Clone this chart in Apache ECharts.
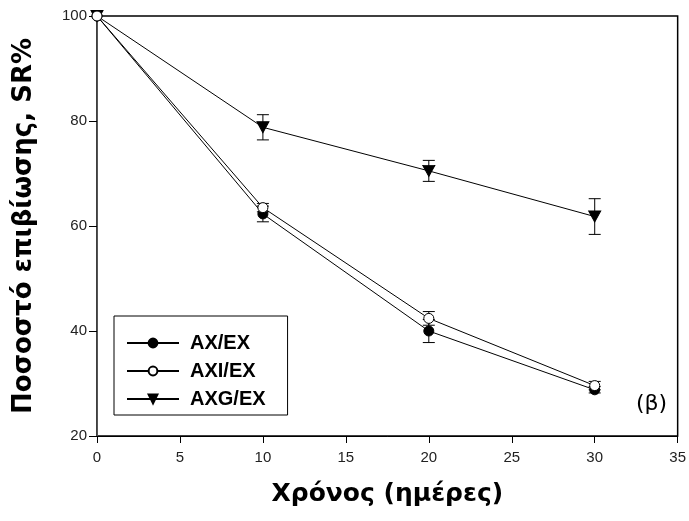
<!DOCTYPE html>
<html><head><meta charset="utf-8">
<script src="https://cdn.jsdelivr.net/npm/echarts@6/dist/echarts.min.js"></script>
<style>html,body{margin:0;padding:0;background:#fff}#c{width:689px;height:521px}</style>
</head><body><div id="c"></div>
<script>
var days = [0, 10, 20, 30];
var seriesNames = ['AX/EX', 'AXI/EX', 'AXG/EX'];
var axEx = [100, 62.3, 40.0, 28.8];
var axiEx = [100, 63.5, 42.4, 29.6];
var axgEx = [100, 78.8, 70.5, 61.8];
var errAxEx = [0, 1.5, 2.2, 0.6];
var errAxiEx = [0, 0.8, 1.3, 0.8];
var errAxgEx = [0, 2.4, 2.0, 3.4];
var xTicks = [0, 5, 10, 15, 20, 25, 30, 35];
var yTicks = [20, 40, 60, 80, 100];

function pairs(vals){ return days.map(function(d,i){ return [d, vals[i]]; }); }
function errData(vals, errs){ return days.map(function(d,i){ return [d, vals[i]-errs[i], vals[i]+errs[i]]; }).filter(function(r){return r[2]-r[1]>0;}); }
function errSeries(vals, errs){
  return {
    type:'custom', z:1, silent:true, clip:false,
    renderItem:function(params, api){
      var x = api.value(0);
      var lo = api.coord([x, api.value(1)]);
      var hi = api.coord([x, api.value(2)]);
      var w = 6;
      var st = {stroke:'#000', lineWidth:1};
      return {type:'group', children:[
        {type:'line', shape:{x1:lo[0],y1:lo[1],x2:hi[0],y2:hi[1]}, style:st},
        {type:'line', shape:{x1:lo[0]-w,y1:lo[1],x2:lo[0]+w,y2:lo[1]}, style:st},
        {type:'line', shape:{x1:hi[0]-w,y1:hi[1],x2:hi[0]+w,y2:hi[1]}, style:st}
      ]};
    },
    encode:{x:0, y:[1,2]},
    data: errData(vals, errs)
  };
}
var chart = echarts.init(document.getElementById('c'), null, {renderer:'canvas'});
var lineStyle = {color:'#000', width:1};
var titleFont = 'DejaVu Sans, Verdana, sans-serif';
chart.setOption({
  animation:false,
  backgroundColor:'#fff',
  grid:{left:97, right:11, top:16, bottom:85, show:true, borderColor:'#000', borderWidth:1.5},
  legend:{
    orient:'vertical', left:114, top:316,
    data:seriesNames,
    itemWidth:52, itemHeight:11, itemGap:8,
    padding:[17, 22, 6, 12],
    borderColor:'#000', borderWidth:1,
    textStyle:{fontFamily:'Liberation Sans, Arial', fontWeight:'bold', fontSize:20, color:'#000', padding:[0,0,0,6]}
  },
  xAxis:{
    type:'value', min:0, max:35, interval:5,
    name:'Χρόνος (ημέρες)', nameLocation:'middle', nameGap:46,
    nameTextStyle:{fontFamily:titleFont, fontWeight:'bold', fontSize:25, color:'#000'},
    axisLine:{lineStyle:{color:'#000', width:1}},
    axisTick:{inside:false, length:7, lineStyle:{color:'#000'}},
    axisLabel:{fontFamily:'Liberation Sans, Arial', fontSize:15, color:'#222', margin:14},
    splitLine:{show:false}
  },
  yAxis:{
    type:'value', min:20, max:100, interval:20,
    name:'Ποσοστό επιβίωσης, SR%', nameLocation:'middle', nameGap:60, nameRotate:90,
    nameTextStyle:{fontFamily:titleFont, fontWeight:'bold', fontSize:26, color:'#000'},
    axisLine:{lineStyle:{color:'#555', width:1}},
    axisTick:{inside:false, length:8, lineStyle:{color:'#000'}},
    axisLabel:{fontFamily:'Liberation Sans, Arial', fontSize:15, color:'#222', margin:10},
    splitLine:{show:false}
  },
  series:[
    errSeries(axEx, errAxEx),
    errSeries(axiEx, errAxiEx),
    errSeries(axgEx, errAxgEx),
    {name:seriesNames[0], type:'line', data:pairs(axEx), clip:false, z:3,
     symbol:'circle', symbolSize:10, lineStyle:lineStyle,
     itemStyle:{color:'#000', borderColor:'#000', borderWidth:1}},
    {name:seriesNames[1], type:'line', data:pairs(axiEx), clip:false, z:4,
     symbol:'circle', symbolSize:10, lineStyle:lineStyle,
     itemStyle:{color:'#fff', borderColor:'#000', borderWidth:1}},
    {name:seriesNames[2], type:'line', data:pairs(axgEx), clip:false, z:3,
     symbol:'triangle', symbolRotate:180, symbolSize:[12,11], lineStyle:lineStyle,
     itemStyle:{color:'#000', borderColor:'#000', borderWidth:1}}
  ],
  graphic:[
    {type:'text', left:636, top:393, style:{text:'(β)', fontFamily:titleFont, fontSize:22, fill:'#000'}}
  ]
});
</script></body></html>
